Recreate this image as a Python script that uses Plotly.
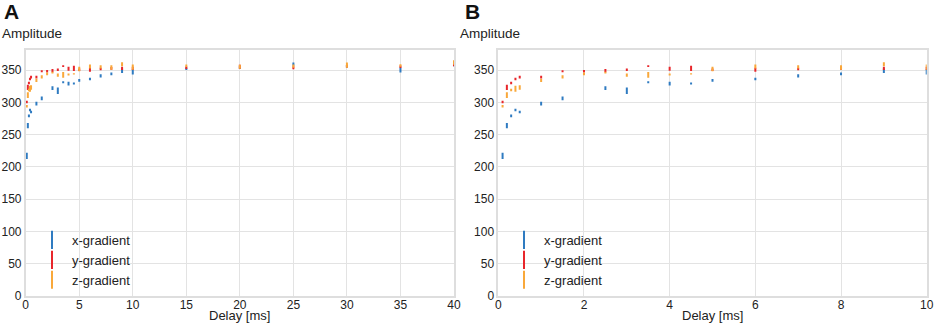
import plotly.graph_objects as go

# ---------------- data ----------------
delay_ms = [0.1, 0.2, 0.3, 0.4, 0.5, 1, 1.5, 2, 2.5, 3, 3.5, 4, 4.5, 5,
            6, 7, 8, 9, 10, 15, 20, 25, 30, 35, 40]

x_amp = [217, 264, 279, 288, 285, 298, 306, None, 322, 318, 331, 329, 329, 334,
         336, 341, 344, 349, 347, 352, 354, 359, 356, 350, 358]
x_err = [5, 4, 2, 2, 2, 3, 3, 0, 3, 5, 1.5, 3, 1.5, 2,
         2, 2.5, 2, 3.5, 4, 2, 2, 2.5, 2, 4, 2]

y_amp = [300.5, 323, 330, 336, 339, 339, 348, 348, 349, 350.5, 356, 352, 352.5, 350.5,
         350.5, 351.5, 352.5, 352.5, 352.5, 353.5, 355, 353.5, 356, 355, 358]
y_err = [2, 4, 2, 2, 2, 2, 1.5, 2, 2.5, 2, 1.5, 3, 4, 2,
         3, 2, 2, 2.5, 2.5, 2, 3, 2.5, 2, 2, 2]

z_amp = [294, 311, 319, 321, 323, 334, 339.5, 344, 346, 342, 342.5, 343, 344, 351.5,
         355.5, 355, 354, 359, 354.5, 356.5, 355, 356, 357.5, 357, 361.5]
z_err = [2, 4.5, 2, 4.5, 3.5, 2.5, 2.5, 2, 1.5, 2.5, 4.5, 1.5, 1, 3.5,
         3, 2.5, 3.5, 3, 4, 2, 3, 2.5, 4, 2, 3.5]

series_names = ["x-gradient", "y-gradient", "z-gradient"]
series_colors = ["#2f7bc1", "#e8262b", "#f9a83a"]

panel_labels = ["A", "B"]
y_title = "Amplitude"
x_title = "Delay [ms]"

# ---------------- figure ----------------
W, H = 934, 324
FONT = "Liberation Sans, Arial, sans-serif"

def px_x(p):
    return p / W

def px_y(p):
    return 1 - p / H

fig = go.Figure()

series = [(x_amp, x_err), (y_amp, y_err), (z_amp, z_err)]
panels = [("x", "y", "legend", 40), ("x2", "y2", "legend2", 10)]

for xa, ya, leg, xmax in panels:
    for (amp, err), name, col in zip(series, series_names, series_colors):
        xs = [d for d in delay_ms if d <= xmax]
        n = len(xs)
        fig.add_trace(go.Scatter(
            x=xs, y=amp[:n], name=name, mode="markers",
            xaxis=xa, yaxis=ya, showlegend=False,
            marker=dict(size=0.1, color=col, opacity=0),
            error_y=dict(type="data", array=err[:n], visible=True,
                         color=col, thickness=2, width=0),
        ))
    # legend-only entries (vertical line symbol like the reference legend)
    for name, col in zip(series_names, series_colors):
        fig.add_trace(go.Scatter(
            x=[None], y=[None], name=name, mode="markers",
            xaxis=xa, yaxis=ya, legend=leg, showlegend=True,
            marker=dict(symbol="line-ns-open", size=13, color=col,
                        line=dict(color=col, width=2)),
        ))

grid_col = "#e3e3e3"
frame_col = "#dedede"
tick_font = dict(family=FONT, size=12, color="#222222")

common_x = dict(showgrid=True, gridcolor=grid_col, gridwidth=1, zeroline=False,
                showline=True, linecolor=frame_col, linewidth=1.5, mirror=True,
                ticks="", tickfont=tick_font, automargin=False,
                ticklabelstandoff=-3)
common_y = dict(showgrid=True, gridcolor=grid_col, gridwidth=1, zeroline=False,
                showline=True, linecolor=frame_col, linewidth=1.5, mirror=True,
                ticks="", tickfont=tick_font, automargin=False,
                range=[0, 381], tick0=0, dtick=50)

y_dom = [px_y(296), px_y(50)]
leg_common = dict(xanchor="left", yanchor="top", bgcolor="rgba(0,0,0,0)",
                  font=dict(family=FONT, size=13, color="#222222"),
                  tracegroupgap=0)
fig.update_layout(
    width=W, height=H, autosize=False,
    margin=dict(l=0, r=0, t=0, b=0),
    paper_bgcolor="white", plot_bgcolor="white",
    font=dict(family=FONT, size=13, color="#222222"),
    xaxis=dict(domain=[px_x(25.7), px_x(454)], range=[0, 40], tick0=0, dtick=5,
               anchor="y", **common_x),
    yaxis=dict(domain=y_dom, anchor="x", **common_y),
    xaxis2=dict(domain=[px_x(498.3), px_x(926.7)], range=[0, 10], tick0=0, dtick=2,
                anchor="y2", **common_x),
    yaxis2=dict(domain=y_dom, anchor="x2", **common_y),
    legend=dict(x=px_x(32), y=px_y(225), **leg_common),
    legend2=dict(x=px_x(504), y=px_y(225), **leg_common),
    showlegend=True,
)

annos = []
for lab, lx, ax in zip(panel_labels, [2, 463], [0, 458]):
    annos.append(dict(text="<b>%s</b>" % lab, x=px_x(lx), y=px_y(11), xref="paper",
                      yref="paper", xanchor="left", yanchor="middle", showarrow=False,
                      font=dict(family=FONT, size=21, color="#111111")))
    annos.append(dict(text=y_title, x=px_x(ax), y=px_y(33), xref="paper",
                      yref="paper", xanchor="left", yanchor="middle", showarrow=False,
                      font=dict(family=FONT, size=13.5, color="#222222")))
for cx in [(25.7 + 454) / 2, (498.3 + 926.7) / 2]:
    annos.append(dict(text=x_title, x=px_x(cx), y=px_y(315), xref="paper",
                      yref="paper", xanchor="center", yanchor="middle", showarrow=False,
                      font=dict(family=FONT, size=13, color="#222222")))
fig.update_layout(annotations=annos)

fig.write_html("out.html", config=dict(displayModeBar=False),
               post_script="document.body.style.margin='0px';"
                           "document.body.style.overflow='hidden';")
